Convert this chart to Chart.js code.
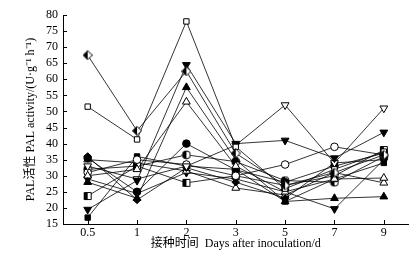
<!DOCTYPE html>
<html>
<head>
<meta charset="utf-8">
<script src="https://cdn.jsdelivr.net/npm/chart.js@4.4.1/dist/chart.umd.min.js"></script>
<style>
  html, body { margin: 0; padding: 0; background: #fff; }
</style>
</head>
<body>
<canvas id="chart" width="414" height="260"></canvas>
<script>
// days after inoculation
const days = ['0.5', '1', '2', '3', '5', '7', '9']

// PAL activity, one array per treatment
const halfDiamond   = [67.5, 44, 62.5, 37, 27, 31, 36.5]
const openSquare    = [51.5, 41.3, 78, 39, 26, 32, 37.5]
const fillTriDownA  = [19.5, 28.5, 64.5, 40, 41, 35.5, 43.5]
const fillTriUp     = [28, 23, 57.5, 35, 22, 23, 23.5]
const openTriUpA    = [30, 32, 53, 33, 25, 29, 29.3]
const openTriDown   = [33, 29, 33, 39.5, 52, 34, 51]
const openCircle    = [31, 35, 33.5, 30, 33.5, 39, 36.5]
const fillCircle    = [35.5, 25, 40, 31.8, 28, 33, 37]
const fillSquare    = [17, 36, 33, 32, 22, 29, 34]
const halfSquare    = [23.7, 33, 27.8, 30, 27, 30, 38]
const fillDiamond   = [36, 22.5, 32.5, 28, 23, 34, 35]
const openTriUpB    = [35, 34, 31.5, 26.2, 24, 31, 27.8]
const fillTriDownB  = [29, 24.5, 31, 29, 25, 19.7, 35]
const halfCircle    = [32, 33, 36.5, 34.4, 28.5, 28, 36]

const yTicksMin = 15
const yTicksMax = 80
const yTicksStep = 5

// half filled markers drawn on small canvases
function halfMarker(shape) {
  const s = 10
  const c = document.createElement('canvas')
  c.width = s; c.height = s
  const g = c.getContext('2d')
  function path() {
    g.beginPath()
    if (shape === 'diamond') {
      g.moveTo(5, 0.5); g.lineTo(9.5, 5); g.lineTo(5, 9.5); g.lineTo(0.5, 5); g.closePath()
    } else if (shape === 'square') {
      g.rect(1.5, 1.5, 7, 7)
    } else {
      g.arc(5, 5, 4, 0, Math.PI * 2)
    }
  }
  path(); g.fillStyle = '#fff'; g.fill()
  g.save(); path(); g.clip(); g.fillStyle = '#000'; g.fillRect(0, 0, 5, s); g.restore()
  path(); g.strokeStyle = '#000'; g.lineWidth = 1; g.stroke()
  return c
}

function series(data, style, fill, rotation) {
  return {
    data: data,
    borderColor: '#000',
    borderWidth: 0.8,
    pointStyle: style,
    pointRotation: rotation || 0,
    pointRadius: style === 'triangle' ? 4.5 : 3.8,
    pointBorderWidth: 1,
    pointBorderColor: '#000',
    pointBackgroundColor: fill ? '#000' : '#fff',
    tension: 0,
  }
}

const inwardTicks = {
  id: 'inwardTicks',
  afterDraw(chart) {
    const ctx = chart.ctx
    const x = chart.scales.x
    const y = chart.scales.y
    ctx.save()
    ctx.strokeStyle = '#000'
    ctx.lineWidth = 1
    ctx.beginPath()
    y.ticks.forEach((t, i) => {
      const py = Math.round(y.getPixelForTick(i)) + 0.5
      ctx.moveTo(y.right, py)
      ctx.lineTo(y.right + 4, py)
    })
    x.ticks.forEach((t, i) => {
      const px = Math.round(x.getPixelForTick(i)) + 0.5
      ctx.moveTo(px, x.top)
      ctx.lineTo(px, x.top - 4)
    })
    ctx.stroke()
    ctx.restore()
  }
}

const serif = "'Liberation Serif', 'Noto Sans CJK SC', serif"

new Chart(document.getElementById('chart'), {
  type: 'line',
  data: {
    labels: days,
    datasets: [
      series(halfDiamond, halfMarker('diamond')),
      series(openSquare, 'rect', false),
      series(fillTriDownA, 'triangle', true, 180),
      series(fillTriUp, 'triangle', true),
      series(openTriUpA, 'triangle', false),
      series(openTriDown, 'triangle', false, 180),
      series(openCircle, 'circle', false),
      series(fillCircle, 'circle', true),
      series(fillSquare, 'rect', true),
      series(halfSquare, halfMarker('square')),
      series(fillDiamond, 'rectRot', true),
      series(openTriUpB, 'triangle', false),
      series(fillTriDownB, 'triangle', true, 180),
      series(halfCircle, halfMarker('circle')),
    ],
  },
  options: {
    responsive: false,
    animation: false,
    layout: { padding: { top: 15, right: 1, left: 0, bottom: 0 } },
    plugins: { legend: { display: false }, tooltip: { enabled: false } },
    scales: {
      x: {
        offset: true,
        afterFit: (scale) => { scale.height = 36 },
        grid: { display: true, drawOnChartArea: false, drawTicks: false },
        border: { display: true, color: '#000', width: 1 },
        ticks: { color: '#000', padding: 2, font: { family: serif, size: 12 } },
        title: {
          display: true,
          text: '接种时间  Days after inoculation/d',
          color: '#000',
          padding: { top: 0, bottom: 9 },
          font: { family: serif, size: 12 },
        },
      },
      y: {
        min: yTicksMin,
        max: yTicksMax,
        afterFit: (scale) => { scale.width = 63 },
        grid: { display: true, drawOnChartArea: false, drawTicks: false },
        border: { display: true, color: '#000', width: 1 },
        ticks: { stepSize: yTicksStep, autoSkip: false, color: '#000', padding: 5, font: { family: serif, size: 12 } },
        title: {
          display: true,
          text: 'PAL活性 PAL activity/(U·g⁻¹ h⁻¹)',
          color: '#000',
          padding: { top: 24, bottom: 0 },
          font: { family: serif, size: 12 },
        },
      },
    },
  },
  plugins: [inwardTicks],
})
</script>
</body>
</html>
